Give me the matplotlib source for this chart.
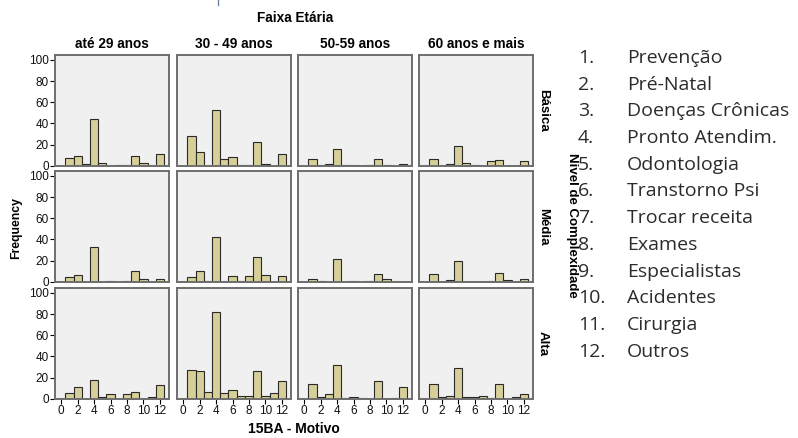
import matplotlib

matplotlib.use('agg')
import matplotlib.pyplot as plt
import numpy as np

# 15BA - Motivo categories (1..12)
motivos = ['Prevenção', 'Pré-Natal', 'Doenças Crônicas', 'Pronto Atendim.',
           'Odontologia', 'Transtorno Psi', 'Trocar receita', 'Exames',
           'Especialistas', 'Acidentes', 'Cirurgia', 'Outros']
faixas = ['até 29 anos', '30 - 49 anos', '50-59 anos', '60 anos e mais']
niveis = ['Básica', 'Média', 'Alta']

# frequencies per motivo, one list per (nivel, faixa)
basica_ate29 = [7, 9, 2, 44, 3, 0, 1, 1, 9, 3, 0, 11]
basica_30_49 = [28, 13, 0, 53, 6, 8, 1, 1, 22, 2, 0, 11]
basica_50_59 = [6, 1, 2, 16, 1, 1, 0, 1, 6, 1, 0, 2]
basica_60 = [6, 0, 2, 19, 3, 1, 0, 4, 5, 0, 0, 4]
media_ate29 = [4, 6, 0, 33, 0, 1, 0, 1, 10, 3, 0, 3]
media_30_49 = [4, 10, 1, 42, 0, 5, 1, 5, 23, 6, 0, 5]
media_50_59 = [3, 1, 0, 21, 0, 1, 0, 1, 7, 3, 0, 0]
media_60 = [7, 0, 2, 20, 0, 0, 0, 1, 8, 2, 0, 3]
alta_ate29 = [5, 11, 0, 18, 2, 4, 0, 4, 6, 0, 2, 13]
alta_30_49 = [27, 26, 6, 82, 5, 8, 3, 3, 26, 3, 5, 17]
alta_50_59 = [14, 2, 4, 32, 1, 2, 1, 0, 17, 0, 1, 11]
alta_60 = [14, 2, 3, 29, 2, 2, 3, 1, 14, 0, 2, 4]

grid = [
    [basica_ate29, basica_30_49, basica_50_59, basica_60],
    [media_ate29, media_30_49, media_50_59, media_60],
    [alta_ate29, alta_30_49, alta_50_59, alta_60],
]

W, H = 798, 438
fig = plt.figure(figsize=(W / 100, H / 100), dpi=100)
plt.rcParams['font.family'] = ['Liberation Sans', 'DejaVu Sans']

col_left = [55, 177, 298, 419]
row_top = [55, 171, 288]
pw, ph = 114, 111
bar_color = '#d6cf98'
frame_color = '#6e6e6e'


def fx(px):
    return px / W


def fy(py):
    return 1 - py / H


x = np.arange(1, 13)
for r in range(3):
    for c in range(4):
        ax = fig.add_axes([fx(col_left[c]), fy(row_top[r] + ph), pw / W, ph / H])
        ax.set_facecolor('#f0f0f0')
        vals = np.array(grid[r][c])
        m = vals > 0
        ax.bar(x[m], vals[m], width=1, color=bar_color, edgecolor='#2a2a2a',
               linewidth=0.8, zorder=2)
        ax.set_xlim(-0.75, 13.1)
        ax.set_ylim(-0.3, 104.7)
        for s in ax.spines.values():
            s.set_color(frame_color)
            s.set_linewidth(1.4)
        ax.tick_params(length=3.5, width=0.8, color='black', labelsize=8.5,
                       pad=1, labelcolor='#111111')
        if c == 0:
            ax.set_yticks([0, 20, 40, 60, 80, 100])
        else:
            ax.set_yticks([])
        if r == 2:
            ax.set_xticks([0, 2, 4, 6, 8, 10, 12])
        else:
            ax.set_xticks([])

# column headers
for c in range(4):
    cx = col_left[c] + pw / 2
    fig.text(fx(cx), fy(44), faixas[c], ha='center', va='center',
             fontsize=9.8, fontweight='bold')

# row labels
for r in range(3):
    cy = row_top[r] + ph / 2
    fig.text(fx(543), fy(cy), niveis[r], ha='center', va='center',
             rotation=-90, fontsize=9.5, fontweight='bold')

fig.text(fx(295), fy(18), 'Faixa Etária', ha='center', va='center',
         fontsize=9.8, fontweight='bold')
fig.text(fx(16), fy(228), 'Frequency', ha='center', va='center',
         rotation=90, fontsize=8.8, fontweight='bold')
fig.text(fx(294), fy(429), '15BA - Motivo', ha='center', va='center',
         fontsize=10, fontweight='bold')
fig.text(fx(572), fy(225), 'Nivel de Complexidade', ha='center', va='center',
         rotation=-90, fontsize=9.5, fontweight='bold')

# small mark at the top
fig.add_artist(plt.Line2D([fx(218), fx(218)], [fy(0), fy(5)],
                          color='#6f84a0', lw=1))

# legend list on the right
for i, name in enumerate(motivos):
    yy = 58 + i * 26.7
    fig.text(fx(578), fy(yy), '%d.' % (i + 1), ha='left', va='center',
             fontsize=14, family='Open Sans', color='#2b2b2b')
    fig.text(fx(627), fy(yy), name, ha='left', va='center',
             fontsize=14, family='Open Sans', color='#2b2b2b')

plt.savefig('out.png', dpi=100)
plt.close()
